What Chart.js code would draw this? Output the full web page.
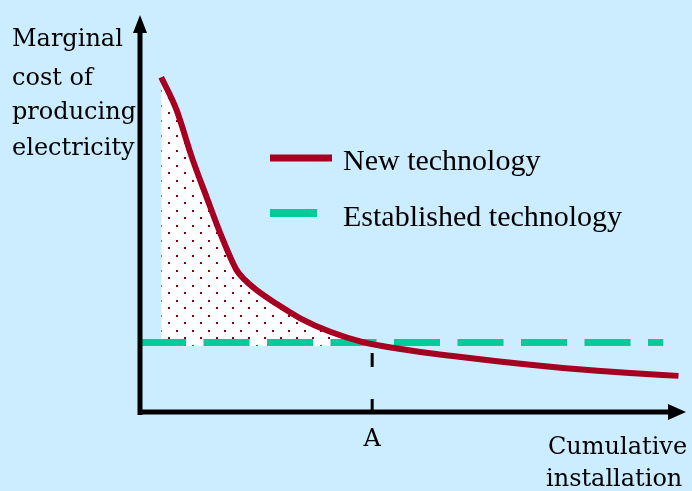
<!DOCTYPE html>
<html><head><meta charset="utf-8">
<script src="https://cdn.jsdelivr.net/npm/chart.js@4/dist/chart.umd.min.js"></script>
<style>html,body{margin:0;padding:0;background:#CCECFF;overflow:hidden}canvas{display:block}</style>
</head><body>
<canvas id="c" width="692" height="491"></canvas>
<script>
// ---- data (abstract units: x 0..100, y 0..100) ----
const newTechX = [3.9, 6.7, 9.5, 12.2, 15.0, 17.7, 19.3, 21.4, 25.1, 29.4, 34.9, 40.9, 47.2, 53.2, 59.3, 65.5, 71.6, 77.6, 83.9, 89.9, 98.8];
const newTechY = [84.3, 76.1, 64.2, 54.2, 44.1, 35.8, 33.2, 30.7, 27.2, 23.6, 20.2, 17.6, 16.0, 14.8, 13.8, 12.8, 11.9, 11.1, 10.4, 9.8, 9.1];
const establishedX = [0, 96];
const establishedY = [17.5, 17.5];
const pointA = 42.6;
const seriesLabels = ['New technology', 'Established technology'];
const yAxisTitle = ['Marginal', 'cost of', 'producing', 'electricity'];
const xAxisTitle = ['Cumulative', 'installation'];
const xTickLabel = 'A';

const canvas = document.getElementById('c');
const ctx = canvas.getContext('2d');

function dotPattern() {
  const t = document.createElement('canvas');
  t.width = 16; t.height = 15;
  const g = t.getContext('2d');
  g.fillStyle = '#ffffff'; g.fillRect(0, 0, 16, 15);
  g.fillStyle = '#8E0010';
  g.fillRect(0, 0, 2, 2);
  g.fillRect(8, 7, 2, 2);
  return ctx.createPattern(t, 'repeat');
}

const curvePts = newTechX.map((x, i) => ({x, y: newTechY[i]}));
const areaPts = curvePts.filter(p => p.x <= pointA);

const deco = {
  id: 'deco',
  beforeDraw(chart) {
    const c = chart.ctx;
    c.save();
    c.fillStyle = '#CCECFF';
    c.fillRect(0, 0, chart.width, chart.height);
    c.restore();
  },
  afterDraw(chart) {
    const c = chart.ctx;
    const xs = chart.scales.x, ys = chart.scales.y;
    const x0 = xs.getPixelForValue(0), xMax = xs.getPixelForValue(100);
    const y0 = ys.getPixelForValue(0), yMax = ys.getPixelForValue(100);
    c.save();
    c.fillStyle = '#000'; c.strokeStyle = '#000';
    // y axis
    c.lineWidth = 5;
    c.beginPath(); c.moveTo(x0, y0 + 3); c.lineTo(x0, yMax + 14); c.stroke();
    c.beginPath(); c.moveTo(x0, yMax); c.lineTo(x0 + 7, yMax + 18); c.lineTo(x0 - 7, yMax + 18); c.closePath(); c.fill();
    // x axis
    c.beginPath(); c.moveTo(x0 - 2, y0); c.lineTo(xMax - 14, y0); c.stroke();
    c.beginPath(); c.moveTo(xMax + 1, y0); c.lineTo(xMax - 17, y0 - 8); c.lineTo(xMax - 17, y0 + 8); c.closePath(); c.fill();
    // dashed marker at A
    const xa = xs.getPixelForValue(pointA);
    const ye = ys.getPixelForValue(establishedY[0]);
    c.lineWidth = 3;
    c.setLineDash([14, 32]);
    c.beginPath(); c.moveTo(xa, ye + 10.5); c.lineTo(xa, y0); c.stroke();
    c.setLineDash([]);
    // texts
    c.textBaseline = 'alphabetic';
    c.font = '24px "DejaVu Serif"';
    c.textAlign = 'left';
    const ybl = [46, 85, 119, 155];
    yAxisTitle.forEach((t, i) => c.fillText(t, 12, ybl[i]));
    c.fillText(xAxisTitle[0], 548, 454);
    c.fillText(xAxisTitle[1], 546, 486);
    c.textAlign = 'center';
    c.fillText(xTickLabel, xa, 446);
    // legend
    const ds = chart.data.datasets;
    c.textAlign = 'left';
    c.font = '30px "Liberation Serif"';
    c.lineCap = 'butt';
    c.strokeStyle = ds[0].borderColor; c.lineWidth = 7;
    c.beginPath(); c.moveTo(270, 158); c.lineTo(332, 158); c.stroke();
    c.fillText(ds[0].label, 343, 170);
    c.strokeStyle = ds[1].borderColor; c.lineWidth = 8;
    c.beginPath(); c.moveTo(270, 213); c.lineTo(317, 213); c.stroke();
    c.fillText(ds[1].label, 343, 226);
    c.restore();
  }
};

new Chart(ctx, {
  type: 'line',
  data: {
    datasets: [
      {label: seriesLabels[0], data: curvePts, borderColor: '#A50021', borderWidth: 6, pointRadius: 0, fill: false, cubicInterpolationMode: 'monotone'},
      {label: seriesLabels[1], data: establishedX.map((x, i) => ({x, y: establishedY[i]})), borderColor: '#00CC99', borderWidth: 7, borderDash: [46, 17.5], borderCapStyle: 'butt', pointRadius: 0, fill: false},
      {label: 'area', data: areaPts, borderWidth: 0, borderColor: 'rgba(0,0,0,0)', pointRadius: 0, fill: {value: establishedY[0] - 0.8}, backgroundColor: dotPattern(), cubicInterpolationMode: 'monotone'}
    ]
  },
  options: {
    responsive: false, animation: false, events: [],
    layout: {padding: {left: 140, top: 15, right: 7, bottom: 79}},
    scales: {
      x: {type: 'linear', min: 0, max: 100, display: false},
      y: {type: 'linear', min: 0, max: 100, display: false}
    },
    plugins: {legend: {display: false}, tooltip: {enabled: false}}
  },
  plugins: [deco]
});
</script>
</body></html>
